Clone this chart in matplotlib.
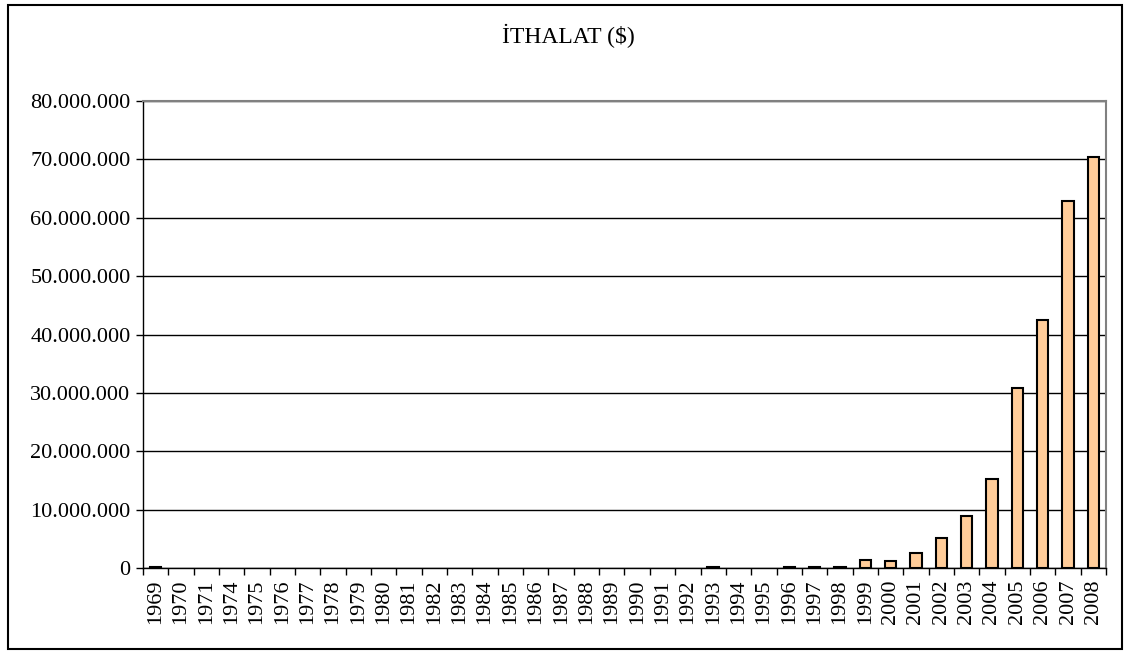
import matplotlib.pyplot as plt
from matplotlib.patches import Rectangle
from matplotlib.ticker import FuncFormatter, FixedLocator

years = ['1969', '1970', '1971'] + [str(y) for y in range(1974, 2009)]
imports = ([300000] + [0] * 21 + [300000, 0, 0, 300000, 300000, 300000,
           1500000, 1200000, 2700000, 5200000, 9000000, 15300000,
           30900000, 42500000, 62900000, 70400000])
title = 'İTHALAT ($)'

plt.rcParams['font.family'] = ['Liberation Serif', 'DejaVu Serif']

fig = plt.figure(figsize=(11.24, 6.52), dpi=100)
ax = fig.add_axes([0.1272, 0.1284, 0.8568, 0.7168])

x = list(range(len(years)))
# no outline on empty years
lw = [1.5 if v > 0 else 0 for v in imports]
ax.bar(x, imports, width=0.45, color='#FFCC99', edgecolor='black',
       linewidth=lw, zorder=3)

ax.set_xlim(-0.5, len(years) - 0.5)
ax.set_ylim(0, 80000000)
ax.set_yticks(range(0, 80000001, 10000000))
ax.yaxis.set_major_formatter(FuncFormatter(lambda v, p: f'{int(v):,}'.replace(',', '.')))
ax.yaxis.grid(True, color='black', linewidth=1)
ax.set_axisbelow(True)

ax.set_xticks(x)
ax.set_xticklabels(years, rotation=90)
ax.xaxis.set_minor_locator(FixedLocator([i - 0.5 for i in range(len(years) + 1)]))
ax.tick_params(axis='x', which='major', length=0, pad=8, labelsize=16)
ax.tick_params(axis='x', which='minor', length=5, width=1, color='black')
ax.tick_params(axis='y', length=5, width=1, labelsize=16, pad=4)

for side in ['top', 'right']:
    ax.spines[side].set_color('#808080')
    ax.spines[side].set_linewidth(1.5)
for side in ['left', 'bottom']:
    ax.spines[side].set_color('black')
    ax.spines[side].set_linewidth(1)

fig.text(0.506, 0.945, title, ha='center', va='center', fontsize=17)

fig.patches.append(Rectangle((0.0075, 0.005), 0.9905, 0.988, transform=fig.transFigure,
                             fill=False, edgecolor='black', linewidth=1.5))

fig.savefig('out.png', dpi=100)
